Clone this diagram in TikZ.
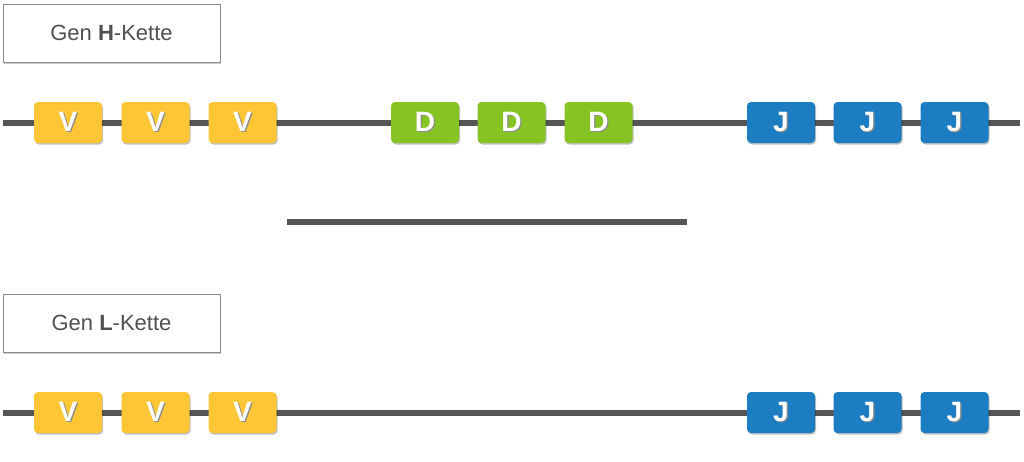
\documentclass[tikz,border=0pt]{standalone}
\usepackage{fontspec}
\setmainfont{Liberation Sans}
\usetikzlibrary{shadows}
\definecolor{vcol}{RGB}{254,198,52}
\definecolor{dcol}{RGB}{134,196,36}
\definecolor{jcol}{RGB}{28,125,194}
\definecolor{linecol}{RGB}{85,85,85}
\definecolor{framecol}{RGB}{140,140,140}
\definecolor{labtext}{RGB}{80,80,80}
\tikzset{
  seg/.style={rounded corners=4pt, minimum width=68pt, minimum height=41pt, inner sep=0pt,
    text=white, font=\fontsize{28}{28}\selectfont\bfseries,
    drop shadow={shadow xshift=1pt, shadow yshift=-1.5pt, opacity=0.25, fill=black}},
  vseg/.style={seg, fill=vcol},
  dseg/.style={seg, fill=dcol},
  jseg/.style={seg, fill=jcol},
  strand/.style={draw=linecol, line width=6pt},
  labelbox/.style={draw=framecol, line width=1pt, fill=white, minimum width=217pt, minimum height=58pt,
    inner sep=0pt, text=labtext, font=\fontsize{22}{22}\selectfont,
    drop shadow={shadow xshift=1pt, shadow yshift=-1.5pt, opacity=0.2, fill=black}},
}
\newcommand{\seglet}[1]{\textcolor{black!45}{\rlap{\hspace{1.2pt}\raisebox{-1.2pt}{#1}}}#1}
\begin{document}
\begin{tikzpicture}[x=1pt,y=-1pt]
\useasboundingbox (0,0) rectangle (1024,461);
% label boxes
\node[labelbox] (hlab) at (111.5,33) {Gen \textbf{H}-Kette};
\node[labelbox] (llab) at (111.5,323) {Gen \textbf{L}-Kette};
% strands
\coordinate (hs) at (3,122.5);
\coordinate (he) at (1020,122.5);
\coordinate (ls) at (3,412.5);
\coordinate (le) at (1020,412.5);
\coordinate (ms) at (287,222);
\coordinate (me) at (687,222);
\draw[strand] (hs) -- (he);
\draw[strand] (ls) -- (le);
\draw[strand] (ms) -- (me);
% H chain segments
\node[vseg] (hv1) at (68,122.5) {\seglet{V}};
\node[vseg] (hv2) at (155.5,122.5) {\seglet{V}};
\node[vseg] (hv3) at (242.5,122.5) {\seglet{V}};
\node[dseg] (hd1) at (425,122.5) {\seglet{D}};
\node[dseg] (hd2) at (511.5,122.5) {\seglet{D}};
\node[dseg] (hd3) at (598.5,122.5) {\seglet{D}};
\node[jseg] (hj1) at (781,122.5) {\seglet{J}};
\node[jseg] (hj2) at (867.5,122.5) {\seglet{J}};
\node[jseg] (hj3) at (954.5,122.5) {\seglet{J}};
% L chain segments
\node[vseg] (lv1) at (68,412.5) {\seglet{V}};
\node[vseg] (lv2) at (155.5,412.5) {\seglet{V}};
\node[vseg] (lv3) at (242.5,412.5) {\seglet{V}};
\node[jseg] (lj1) at (781,412.5) {\seglet{J}};
\node[jseg] (lj2) at (867.5,412.5) {\seglet{J}};
\node[jseg] (lj3) at (954.5,412.5) {\seglet{J}};
\end{tikzpicture}
\end{document}
